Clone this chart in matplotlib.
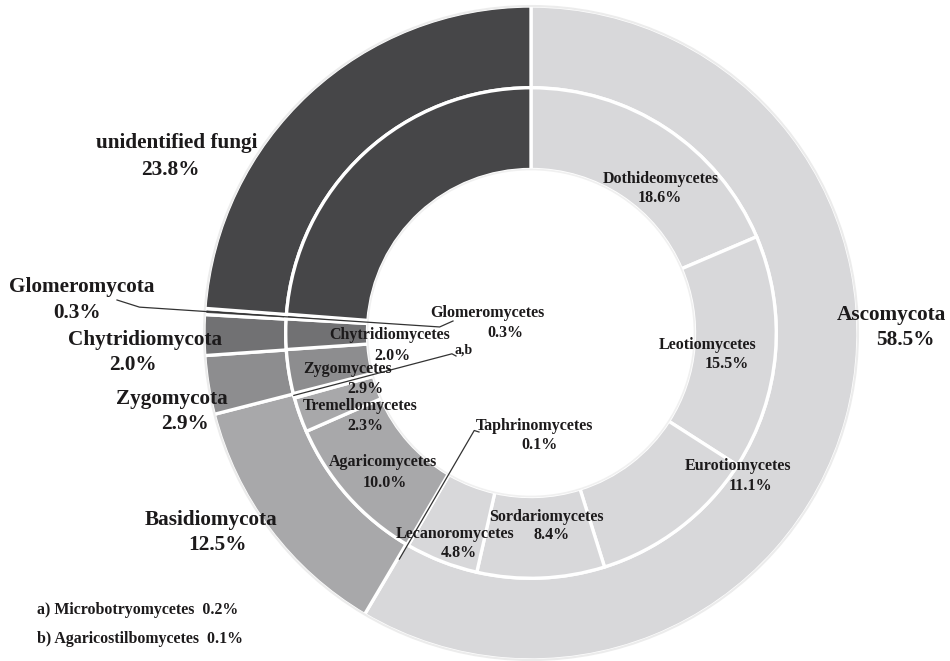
import numpy as np
import matplotlib.pyplot as plt
from matplotlib.patches import Circle

plt.rcParams['font.family'] = ['Liberation Serif', 'DejaVu Serif']
plt.rcParams['font.weight'] = 'bold'

# outer ring: phyla (clockwise from 12 o'clock)
phyla = ['Ascomycota', 'Basidiomycota', 'Zygomycota', 'Chytridiomycota',
         'Glomeromycota', 'unidentified fungi']
phyla_pct = [58.5, 12.5, 2.9, 2.0, 0.3, 23.8]
phyla_colors = ['#d8d8da', '#a8a8aa', '#8d8d8f', '#717173', '#5a5a5c', '#464648']

# inner ring: classes
classes = ['Dothideomycetes', 'Leotiomycetes', 'Eurotiomycetes', 'Sordariomycetes',
           'Lecanoromycetes', 'Taphrinomycetes', 'Agaricomycetes', 'Tremellomycetes',
           'Microbotryomycetes', 'Agaricostilbomycetes', 'Zygomycetes',
           'Chytridiomycetes', 'Glomeromycetes', 'unidentified fungi']
classes_pct = [18.6, 15.5, 11.1, 8.4, 4.8, 0.1, 10.0, 2.3, 0.2, 0.1, 2.9, 2.0, 0.3, 23.8]
classes_phylum = [0, 0, 0, 0, 0, 0, 1, 1, 1, 1, 2, 3, 4, 5]

# label layout in pixels (name line, percent line)
W, H = 950, 661
CX, CY, R = 531, 333, 327
outer_pos = {
    'Ascomycota': ((891, 315), (905, 340)),
    'Basidiomycota': ((211, 520), (218, 545)),
    'Zygomycota': ((172, 399), (185, 424)),
    'Chytridiomycota': ((145, 340), (133, 365)),
    'Glomeromycota': ((82, 287), (77, 313)),
    'unidentified fungi': ((177, 143), (170, 170)),
}
inner_pos = {
    'Dothideomycetes': ((661, 179), (660, 198)),
    'Leotiomycetes': ((708, 345), (727, 364)),
    'Eurotiomycetes': ((738, 466), (750, 486)),
    'Sordariomycetes': ((546, 517), (552, 535)),
    'Lecanoromycetes': ((455, 534), (459, 553)),
    'Taphrinomycetes': ((535, 426), (540, 445)),
    'Agaricomycetes': ((383, 462), (385, 483)),
    'Tremellomycetes': ((360, 406), (365, 426)),
    'Zygomycetes': ((348, 369), (365, 389)),
    'Chytridiomycetes': ((390, 335), (392, 356)),
    'Glomeromycetes': ((487, 313), (505, 333)),
}


def P(px, py):
    return (px - CX) / R, (CY - py) / R


def mid_angle(values, idx):
    # angle (radians, standard math) at middle of wedge idx, clockwise from top
    v = np.array(values, dtype=float)
    frac = (v[:idx].sum() + v[idx] / 2) / v.sum()
    return np.deg2rad(90 - 360 * frac)


def radial(values, idx, r):
    a = mid_angle(values, idx)
    return r * np.cos(a), r * np.sin(a)


fig = plt.figure(figsize=(9.5, 6.61), dpi=100)
ax = fig.add_axes([0, 0, 1, 1])

edge = dict(edgecolor='white', linewidth=2.4)
ax.pie(phyla_pct, radius=1.0, startangle=90, counterclock=False,
       colors=phyla_colors, wedgeprops=dict(width=0.25, **edge))
ax.pie(classes_pct, radius=0.75, startangle=90, counterclock=False,
       colors=[phyla_colors[i] for i in classes_phylum],
       wedgeprops=dict(width=0.25, **edge))
ax.add_patch(Circle((0, 0), 1.0, fill=False, ec='#ececec', lw=1.5, zorder=3))
ax.add_patch(Circle((0, 0), 0.5, fill=False, ec='#f0f0f0', lw=1.2, zorder=3))

txt = '#1c1a1b'
for name, pct in zip(phyla, phyla_pct):
    (nx, ny), (qx, qy) = outer_pos[name]
    ax.text(*P(nx, ny), name, ha='center', va='center', fontsize=15.3, color=txt)
    ax.text(*P(qx, qy), f'{pct:.1f}%', ha='center', va='center', fontsize=15.3, color=txt)

for name, pct in zip(classes, classes_pct):
    if name not in inner_pos:
        continue
    (nx, ny), (qx, qy) = inner_pos[name]
    ax.text(*P(nx, ny), name, ha='center', va='center', fontsize=11.5, color=txt, zorder=5)
    ax.text(*P(qx, qy), f'{pct:.1f}%', ha='center', va='center', fontsize=11.5, color=txt, zorder=5)

lc = dict(color='#333333', lw=0.9, zorder=4)

# Glomeromycota / Glomeromycetes leader
gi = phyla.index('Glomeromycota')
p_out = radial(phyla_pct, gi, 1.2)
p_in = radial(phyla_pct, gi, 0.28)
pts = [P(117, 300), p_out, p_in, P(453, 321)]
ax.plot(*zip(*pts), **lc)

# Taphrinomycetes leader
ti = classes.index('Taphrinomycetes')
pts = [radial(classes_pct, ti, 0.8), radial(classes_pct, ti, 0.345), P(479, 432)]
ax.plot(*zip(*pts), **lc)

# a,b leader
mi = classes.index('Microbotryomycetes')
ai = classes.index('Agaricostilbomycetes')
a_mid = (mid_angle(classes_pct, mi) + mid_angle(classes_pct, ai)) / 2
pts = [(0.75 * np.cos(a_mid), 0.75 * np.sin(a_mid)),
       (0.25 * np.cos(a_mid), 0.25 * np.sin(a_mid)), P(456, 356)]
ax.plot(*zip(*pts), **lc)
ax.text(*P(464, 350), 'a,b', ha='center', va='center', fontsize=10, color=txt, zorder=5)

ax.text(*P(37, 610), f'a) {classes[mi]}  {classes_pct[mi]:.1f}%', ha='left', va='center',
        fontsize=11.4, color=txt)
ax.text(*P(37, 639), f'b) {classes[ai]}  {classes_pct[ai]:.1f}%', ha='left', va='center',
        fontsize=11.4, color=txt)

ax.set_xlim(-CX / R, (W - CX) / R)
ax.set_ylim(-(H - CY) / R, CY / R)
ax.set_aspect('auto')
ax.axis('off')

fig.savefig('out.png', dpi=100)
